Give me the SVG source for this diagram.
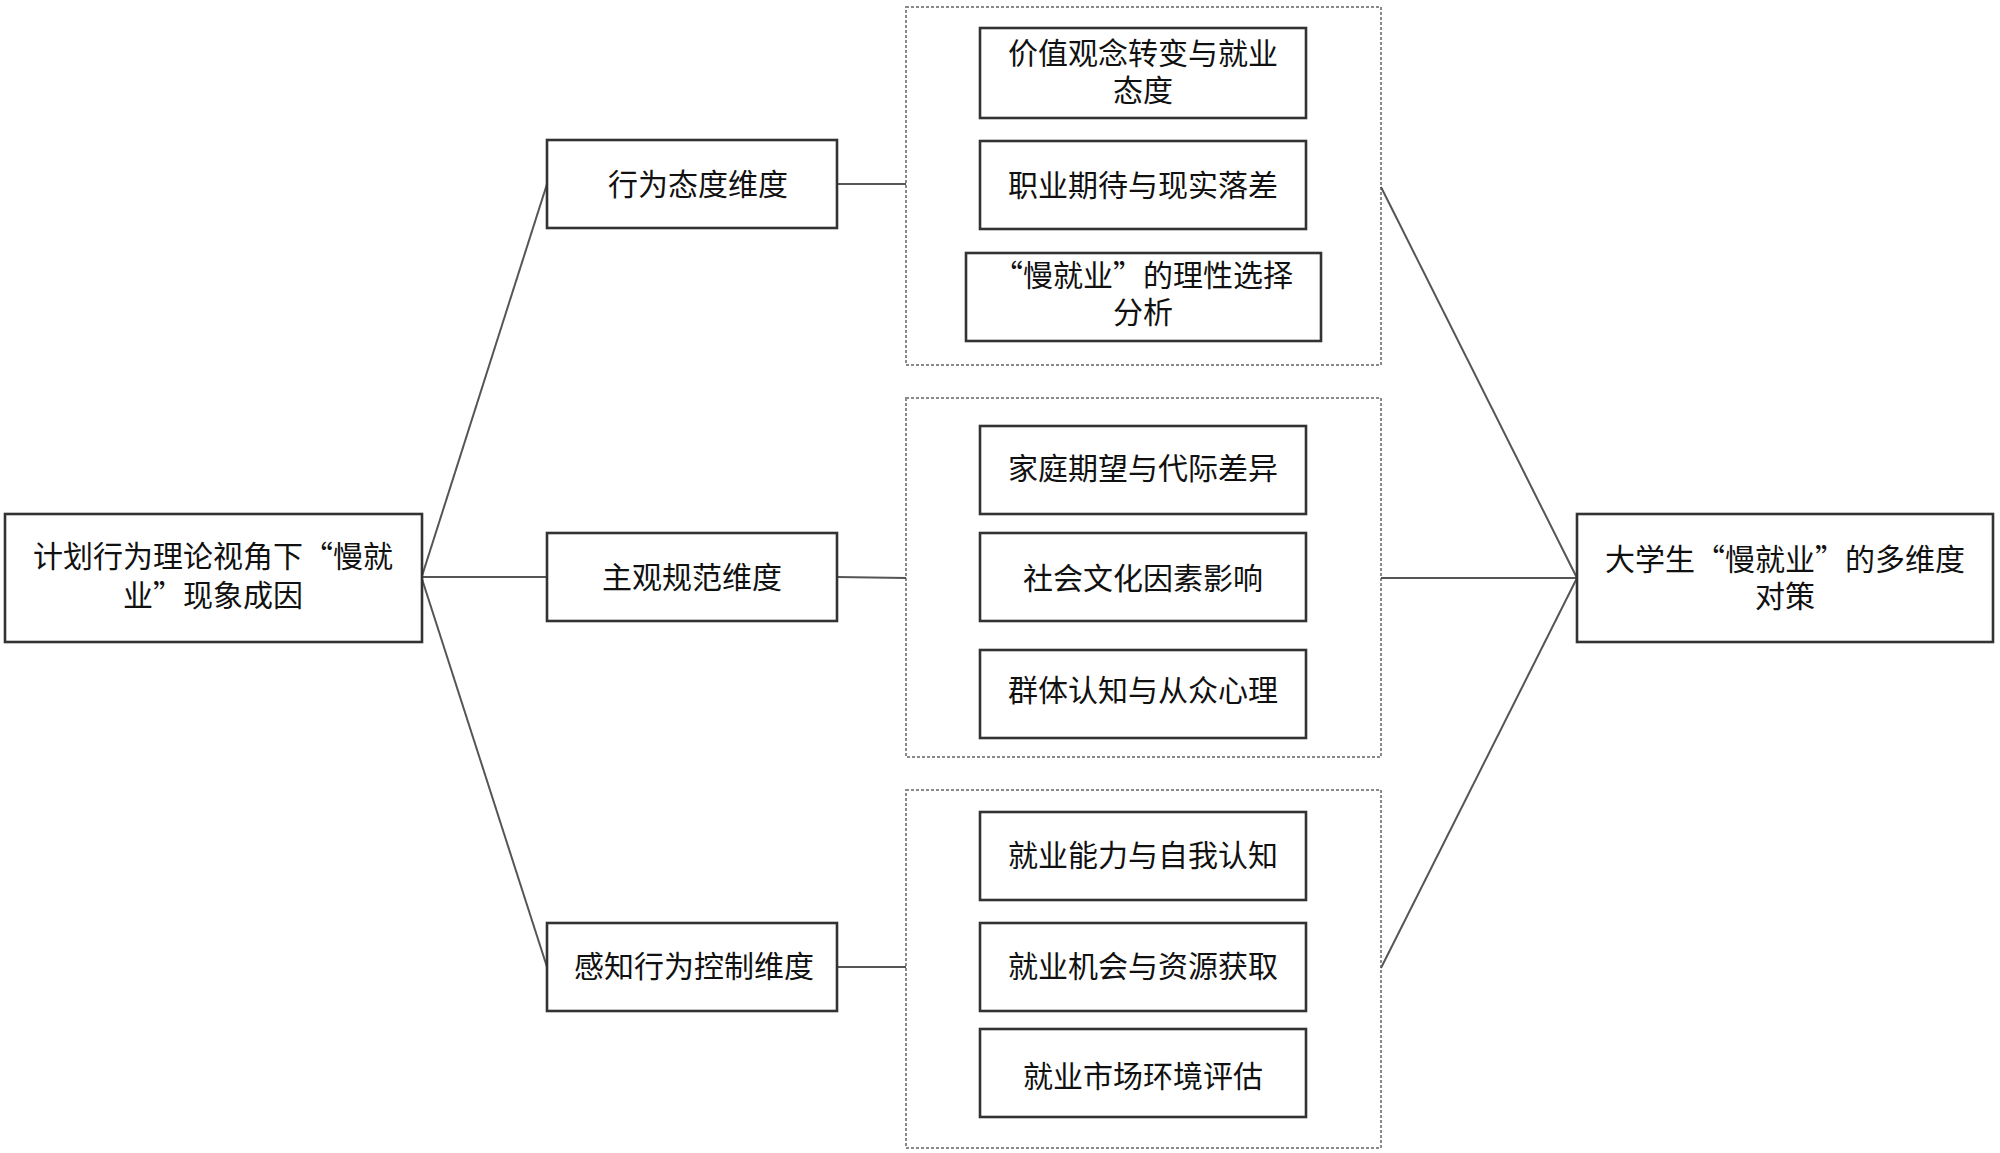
<svg xmlns="http://www.w3.org/2000/svg" width="2000" height="1153" viewBox="0 0 2000 1153">
<style>
.box{fill:#fff;stroke:#333;stroke-width:2.6}
.grp{fill:none;stroke:#8a8a8a;stroke-width:2;stroke-dasharray:3 2}
.t{font-family:"Noto Sans CJK SC","Noto Sans CJK JP",sans-serif;font-size:30px;fill:#111;text-anchor:middle}
.c{fill:none;stroke:#555;stroke-width:2}
</style>
<rect width="2000" height="1153" fill="#fff"/>
<g id="groups">
<rect class="grp" x="906" y="7" width="475" height="358"/>
<rect class="grp" x="906" y="398" width="475" height="359"/>
<rect class="grp" x="906" y="790" width="475" height="358"/>
</g>
<g id="connectors">
<line class="c" x1="422" y1="576" x2="547" y2="184"/>
<line class="c" x1="422" y1="577" x2="547" y2="577"/>
<line class="c" x1="422" y1="579" x2="547" y2="967"/>
<line class="c" x1="837" y1="184" x2="906" y2="184"/>
<line class="c" x1="837" y1="577" x2="906" y2="578"/>
<line class="c" x1="837" y1="967" x2="906" y2="967"/>
<line class="c" x1="1381" y1="187" x2="1577" y2="578"/>
<line class="c" x1="1381" y1="578" x2="1577" y2="578"/>
<line class="c" x1="1381" y1="968" x2="1577" y2="578"/>
</g>
<g id="n_left">
<rect class="box" x="5" y="514" width="417" height="128"/>
<text class="t" x="213" y="567">计划行为理论视角下“慢就</text>
<text class="t" x="213" y="606">业”现象成因</text>
</g>
<g id="n_attitude">
<rect class="box" x="547" y="140" width="290" height="88"/>
<text class="t" x="698" y="195">行为态度维度</text>
</g>
<g id="n_norm">
<rect class="box" x="547" y="533" width="290" height="88"/>
<text class="t" x="692" y="588">主观规范维度</text>
</g>
<g id="n_control">
<rect class="box" x="547" y="923" width="290" height="88"/>
<text class="t" x="694" y="977">感知行为控制维度</text>
</g>
<g id="n_a1">
<rect class="box" x="980" y="28" width="326" height="90"/>
<text class="t" x="1143" y="64">价值观念转变与就业</text>
<text class="t" x="1143" y="101">态度</text>
</g>
<g id="n_a2">
<rect class="box" x="980" y="141" width="326" height="88"/>
<text class="t" x="1143" y="196">职业期待与现实落差</text>
</g>
<g id="n_a3">
<rect class="box" x="966" y="253" width="355" height="88"/>
<text class="t" x="1143" y="286">“慢就业”的理性选择</text>
<text class="t" x="1143" y="323">分析</text>
</g>
<g id="n_b1">
<rect class="box" x="980" y="426" width="326" height="88"/>
<text class="t" x="1143" y="479">家庭期望与代际差异</text>
</g>
<g id="n_b2">
<rect class="box" x="980" y="533" width="326" height="88"/>
<text class="t" x="1143" y="589">社会文化因素影响</text>
</g>
<g id="n_b3">
<rect class="box" x="980" y="650" width="326" height="88"/>
<text class="t" x="1143" y="701">群体认知与从众心理</text>
</g>
<g id="n_c1">
<rect class="box" x="980" y="812" width="326" height="88"/>
<text class="t" x="1143" y="866">就业能力与自我认知</text>
</g>
<g id="n_c2">
<rect class="box" x="980" y="923" width="326" height="88"/>
<text class="t" x="1143" y="977">就业机会与资源获取</text>
</g>
<g id="n_c3">
<rect class="box" x="980" y="1029" width="326" height="88"/>
<text class="t" x="1143" y="1087">就业市场环境评估</text>
</g>
<g id="n_right">
<rect class="box" x="1577" y="514" width="416" height="128"/>
<text class="t" x="1785" y="570">大学生“慢就业”的多维度</text>
<text class="t" x="1785" y="607">对策</text>
</g>
</svg>
